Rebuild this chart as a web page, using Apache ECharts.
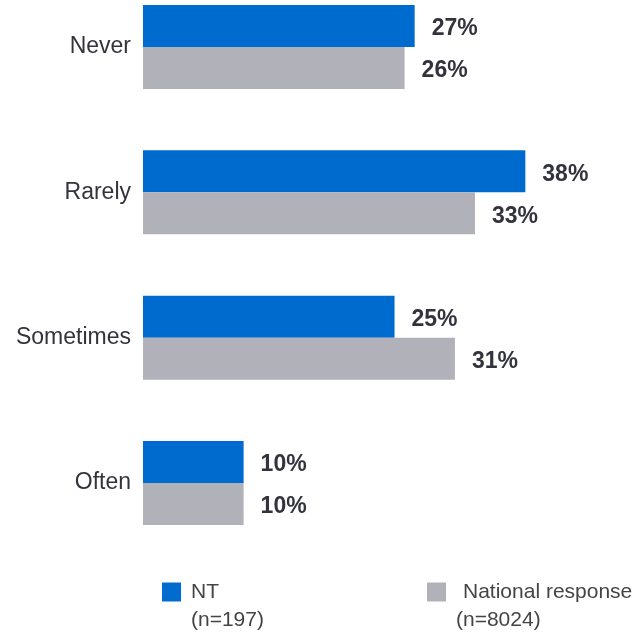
<!DOCTYPE html>
<html>
<head>
<meta charset="utf-8">
<script src="https://cdn.jsdelivr.net/npm/echarts@6/dist/echarts.min.js"></script>
<style>
  html, body { margin: 0; padding: 0; background: #fff; }
  #chart { width: 638px; height: 636px; }
</style>
</head>
<body>
<div id="chart"></div>
<script>
var categories = ['Never', 'Rarely', 'Sometimes', 'Often'];
var ntValues = [27, 38, 25, 10];
var nationalValues = [26, 33, 31, 10];
var ntSample = '(n=197)';
var nationalSample = '(n=8024)';

var textColor = '#33333d';
var chart = echarts.init(document.getElementById('chart'));

function legendText(name) {
  if (name === 'NT') return '{a|NT}\n{b|' + ntSample + '}';
  return '{c|National response}\n{b|' + nationalSample + '}';
}

var legendBase = {
  orient: 'horizontal',
  top: 550,
  padding: 0,
  icon: 'rect',
  itemWidth: 19,
  itemHeight: 19,
  selectedMode: false,
  formatter: legendText,
  textStyle: {
    fontFamily: 'Liberation Sans',
    fontSize: 21,
    color: '#444',
    lineHeight: 28,
    padding: [28, 0, 0, 0],
    rich: {
      a: { fontSize: 21, color: '#444', lineHeight: 28, padding: [0, 0, 0, 5] },
      b: { fontSize: 21, color: '#444', lineHeight: 28, padding: [0, 0, 0, 5] },
      c: { fontSize: 21, color: '#444', lineHeight: 28, padding: [0, 0, 0, 12] }
    }
  }
};

// value labels sit a little below bar centre in the original
var valueLabel = {
  show: true, position: 'right', distance: 17, offset: [0, 3],
  formatter: '{c}%',
  fontFamily: 'Liberation Sans', fontWeight: 'bold', fontSize: 23, color: textColor
};

chart.setOption({
  animation: false,
  legend: [
    Object.assign({}, legendBase, { data: ['NT'], left: 162 }),
    Object.assign({}, legendBase, { data: ['National response'], left: 427 })
  ],
  grid: { left: 143, right: 2, top: 47, bottom: 153, containLabel: false },
  xAxis: {
    type: 'value', min: 0, max: 49,
    show: false
  },
  yAxis: {
    type: 'category',
    data: categories,
    inverse: true,
    boundaryGap: false,
    axisLine: { show: false },
    axisTick: { show: false },
    axisLabel: {
      margin: 12,
      fontFamily: 'Liberation Sans',
      fontSize: 23,
      color: textColor,
      padding: [4, 0, 0, 0]
    }
  },
  series: [
    {
      name: 'NT', type: 'bar', data: ntValues,
      barWidth: 42, barGap: '0%',
      itemStyle: { color: '#006bce' },
      label: valueLabel
    },
    {
      name: 'National response', type: 'bar', data: nationalValues,
      barWidth: 42, barGap: '0%',
      itemStyle: { color: '#b1b1ba' },
      label: valueLabel
    }
  ]
});
</script>
</body>
</html>
